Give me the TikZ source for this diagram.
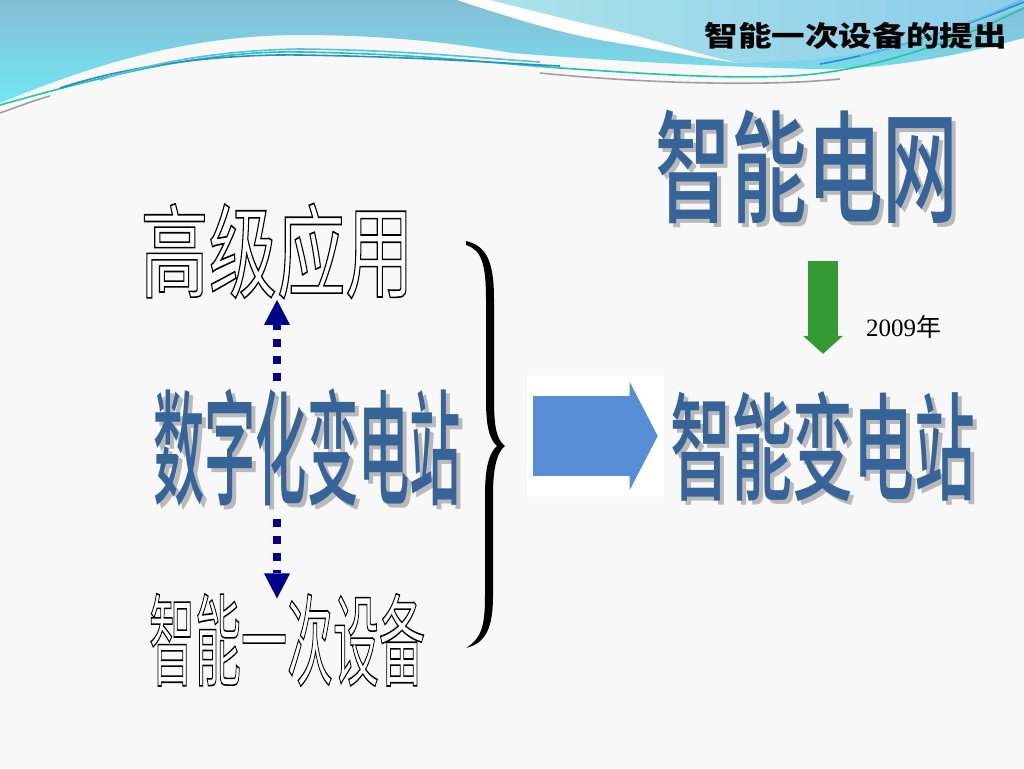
\documentclass[tikz,border=0pt]{standalone}
\usepackage{fontspec}
\setmainfont{Liberation Serif}
\newfontfamily\cjk{Noto Sans CJK SC}
\newfontfamily\cjkm{Noto Sans CJK SC Medium}
\usetikzlibrary{arrows.meta,calc}
\definecolor{bluet}{RGB}{54,100,152}
\definecolor{shadowg}{RGB}{185,185,185}
\definecolor{navyd}{RGB}{0,0,140}
\definecolor{greena}{RGB}{52,155,52}
\definecolor{bluea}{RGB}{85,142,213}
\definecolor{bgc}{RGB}{248,248,248}
\definecolor{hdtop}{RGB}{134,188,214}
\definecolor{hdbot}{RGB}{112,232,242}
\definecolor{hdlight}{RGB}{170,226,232}
\definecolor{hdright}{RGB}{140,205,236}
\definecolor{lnteal}{RGB}{30,200,160}
\definecolor{lnblue}{RGB}{40,140,210}
\definecolor{lnlight}{RGB}{90,190,225}
\definecolor{lngray}{RGB}{160,160,160}
\newcommand\shadowtxt[2]{\rlap{\smash{\kern4pt\raisebox{-4pt}{\textcolor{shadowg}{\scalebox{#1}[1]{#2}}}}}\textcolor{bluet}{\scalebox{#1}[1]{#2}}}
\newcommand\outl[2]{{\color{white}\special{pdf:literal direct 0 G 2 Tr 1.6 w}\scalebox{#1}[1]{#2}\special{pdf:literal direct 0 Tr}}}
\tikzset{
  txt/.style={inner sep=0pt, anchor=center},
  dasharrow/.style={draw=navyd, line width=8pt, dash pattern=on 8pt off 9pt,
     -{Triangle[width=26pt,length=25pt,line width=0pt]}},
  headline/.style={line width=1.6pt}
}
\begin{document}
\begin{tikzpicture}[x=1pt,y=-1pt]
\useasboundingbox (0,0) rectangle (1024,768);
\fill[bgc] (0,0) rectangle (1024,768);
% header band
\shade[top color=hdtop, bottom color=hdbot]
  (0,0) -- (1024,0) -- (1024,38) .. controls (950,58) and (880,70) .. (812,69)
  .. controls (700,66) and (600,60) .. (512,53)
  .. controls (470,46) and (400,35) .. (300,35)
  .. controls (180,35) and (80,70) .. (0,103) -- cycle;
\shade[left color=hdlight, right color=hdright]
  (490,0) -- (1024,0) -- (1024,6) .. controls (950,40) and (850,62) .. (738,63)
  .. controls (700,55) and (650,38) .. (600,27) .. controls (560,18) and (530,10) .. (490,0) -- cycle;
\fill[white] (490,0) .. controls (530,10) and (560,18) .. (600,27)
  .. controls (650,38) and (700,55) .. (738,63)
  .. controls (700,58) and (650,48) .. (600,40)
  .. controls (560,32) and (530,24) .. (457,0) -- cycle;
\draw[headline, lngray] (0,113) .. controls (20,106) and (35,100) .. (50,96);
\draw[headline, lngray] (540,73) .. controls (640,83) and (760,87) .. (840,79);
\draw[headline, lnteal] (0,105) .. controls (90,80) and (200,50) .. (300,52)
  .. controls (420,54) and (480,62) .. (560,68) .. controls (650,74) and (720,79) .. (790,76)
  .. controls (870,72) and (960,40) .. (1024,8);
\draw[headline, lnblue] (60,88) .. controls (130,65) and (220,54) .. (300,55)
  .. controls (420,57) and (480,62) .. (560,66);
\draw[headline, lnlight] (100,80) .. controls (160,60) and (230,50) .. (300,49)
  .. controls (400,50) and (480,58) .. (540,62);
\draw[headline, lnblue] (820,64) .. controls (900,50) and (980,20) .. (1024,2);
\draw[headline, lnlight] (860,56) .. controls (930,40) and (990,15) .. (1024,-1);
\node[txt, anchor=east, font={\cjk\bfseries\fontsize{28pt}{28pt}\selectfont}] (htitle) at (1007,36)
  {\scalebox{1.2}[1]{智能一次设备的提出}};
% white patch behind blue arrow
\fill[white] (527,375) rectangle (664,497);
% texts
\node[txt, font={\cjkm\fontsize{122pt}{122pt}\selectfont}] (grid) at (807,167) {\shadowtxt{0.62}{智能电网}};
\node[txt, font={\cjkm\fontsize{117pt}{117pt}\selectfont}] (smart) at (823,447) {\shadowtxt{0.52}{智能变电站}};
\node[txt, font={\cjkm\fontsize{125pt}{125pt}\selectfont}] (dig) at (307,448) {\shadowtxt{0.41}{数字化变电站}};
\node[txt, font={\cjk\fontsize{102pt}{102pt}\selectfont}] (high) at (277,251) {\outl{0.67}{高级应用}};
\node[txt, font={\cjk\fontsize{100pt}{100pt}\selectfont}] (dev) at (287,640) {\outl{0.46}{智能一次设备}};
\node[txt, anchor=base west, font={\fontsize{25pt}{25pt}\selectfont}] (year) at (866,336) {2009{\cjk 年}};
% dashed arrows
\draw[dasharrow, shorten <=8pt, shorten >=1pt] (high.south |- dig.north) -- (high.south);
\draw[dasharrow, shorten <=12pt, shorten >=-5pt] (high.south |- dig.south) -- (high.south |- dev.north);
% brace
\fill[black] (466,241) .. controls (487,246) and (494,262) .. (494,300) -- (494,400)
  .. controls (494,428) and (497,440) .. (505,446)
  .. controls (497,452) and (493,468) .. (493,495) -- (493,595)
  .. controls (493,628) and (486,643) .. (466,648)
  .. controls (482,638) and (485,625) .. (485,595) -- (485,495)
  .. controls (485,465) and (490,452) .. (497,446)
  .. controls (490,440) and (486,428) .. (486,400) -- (486,300)
  .. controls (486,265) and (482,250) .. (466,245) -- cycle;
% green arrow
\draw[greena, line width=30pt, shorten <=37pt, shorten >=38pt,
  -{Triangle[width=40pt,length=18pt,line width=0pt]}] (grid.south -| smart.north) -- (smart.north);
% blue block arrow
\coordinate (bstart) at (533,436);
\draw[bluea, line width=80pt, shorten >=13pt,
  -{Triangle[width=108pt,length=28pt,line width=0pt]}] (bstart) -- (bstart -| smart.west);
\end{tikzpicture}
\end{document}
